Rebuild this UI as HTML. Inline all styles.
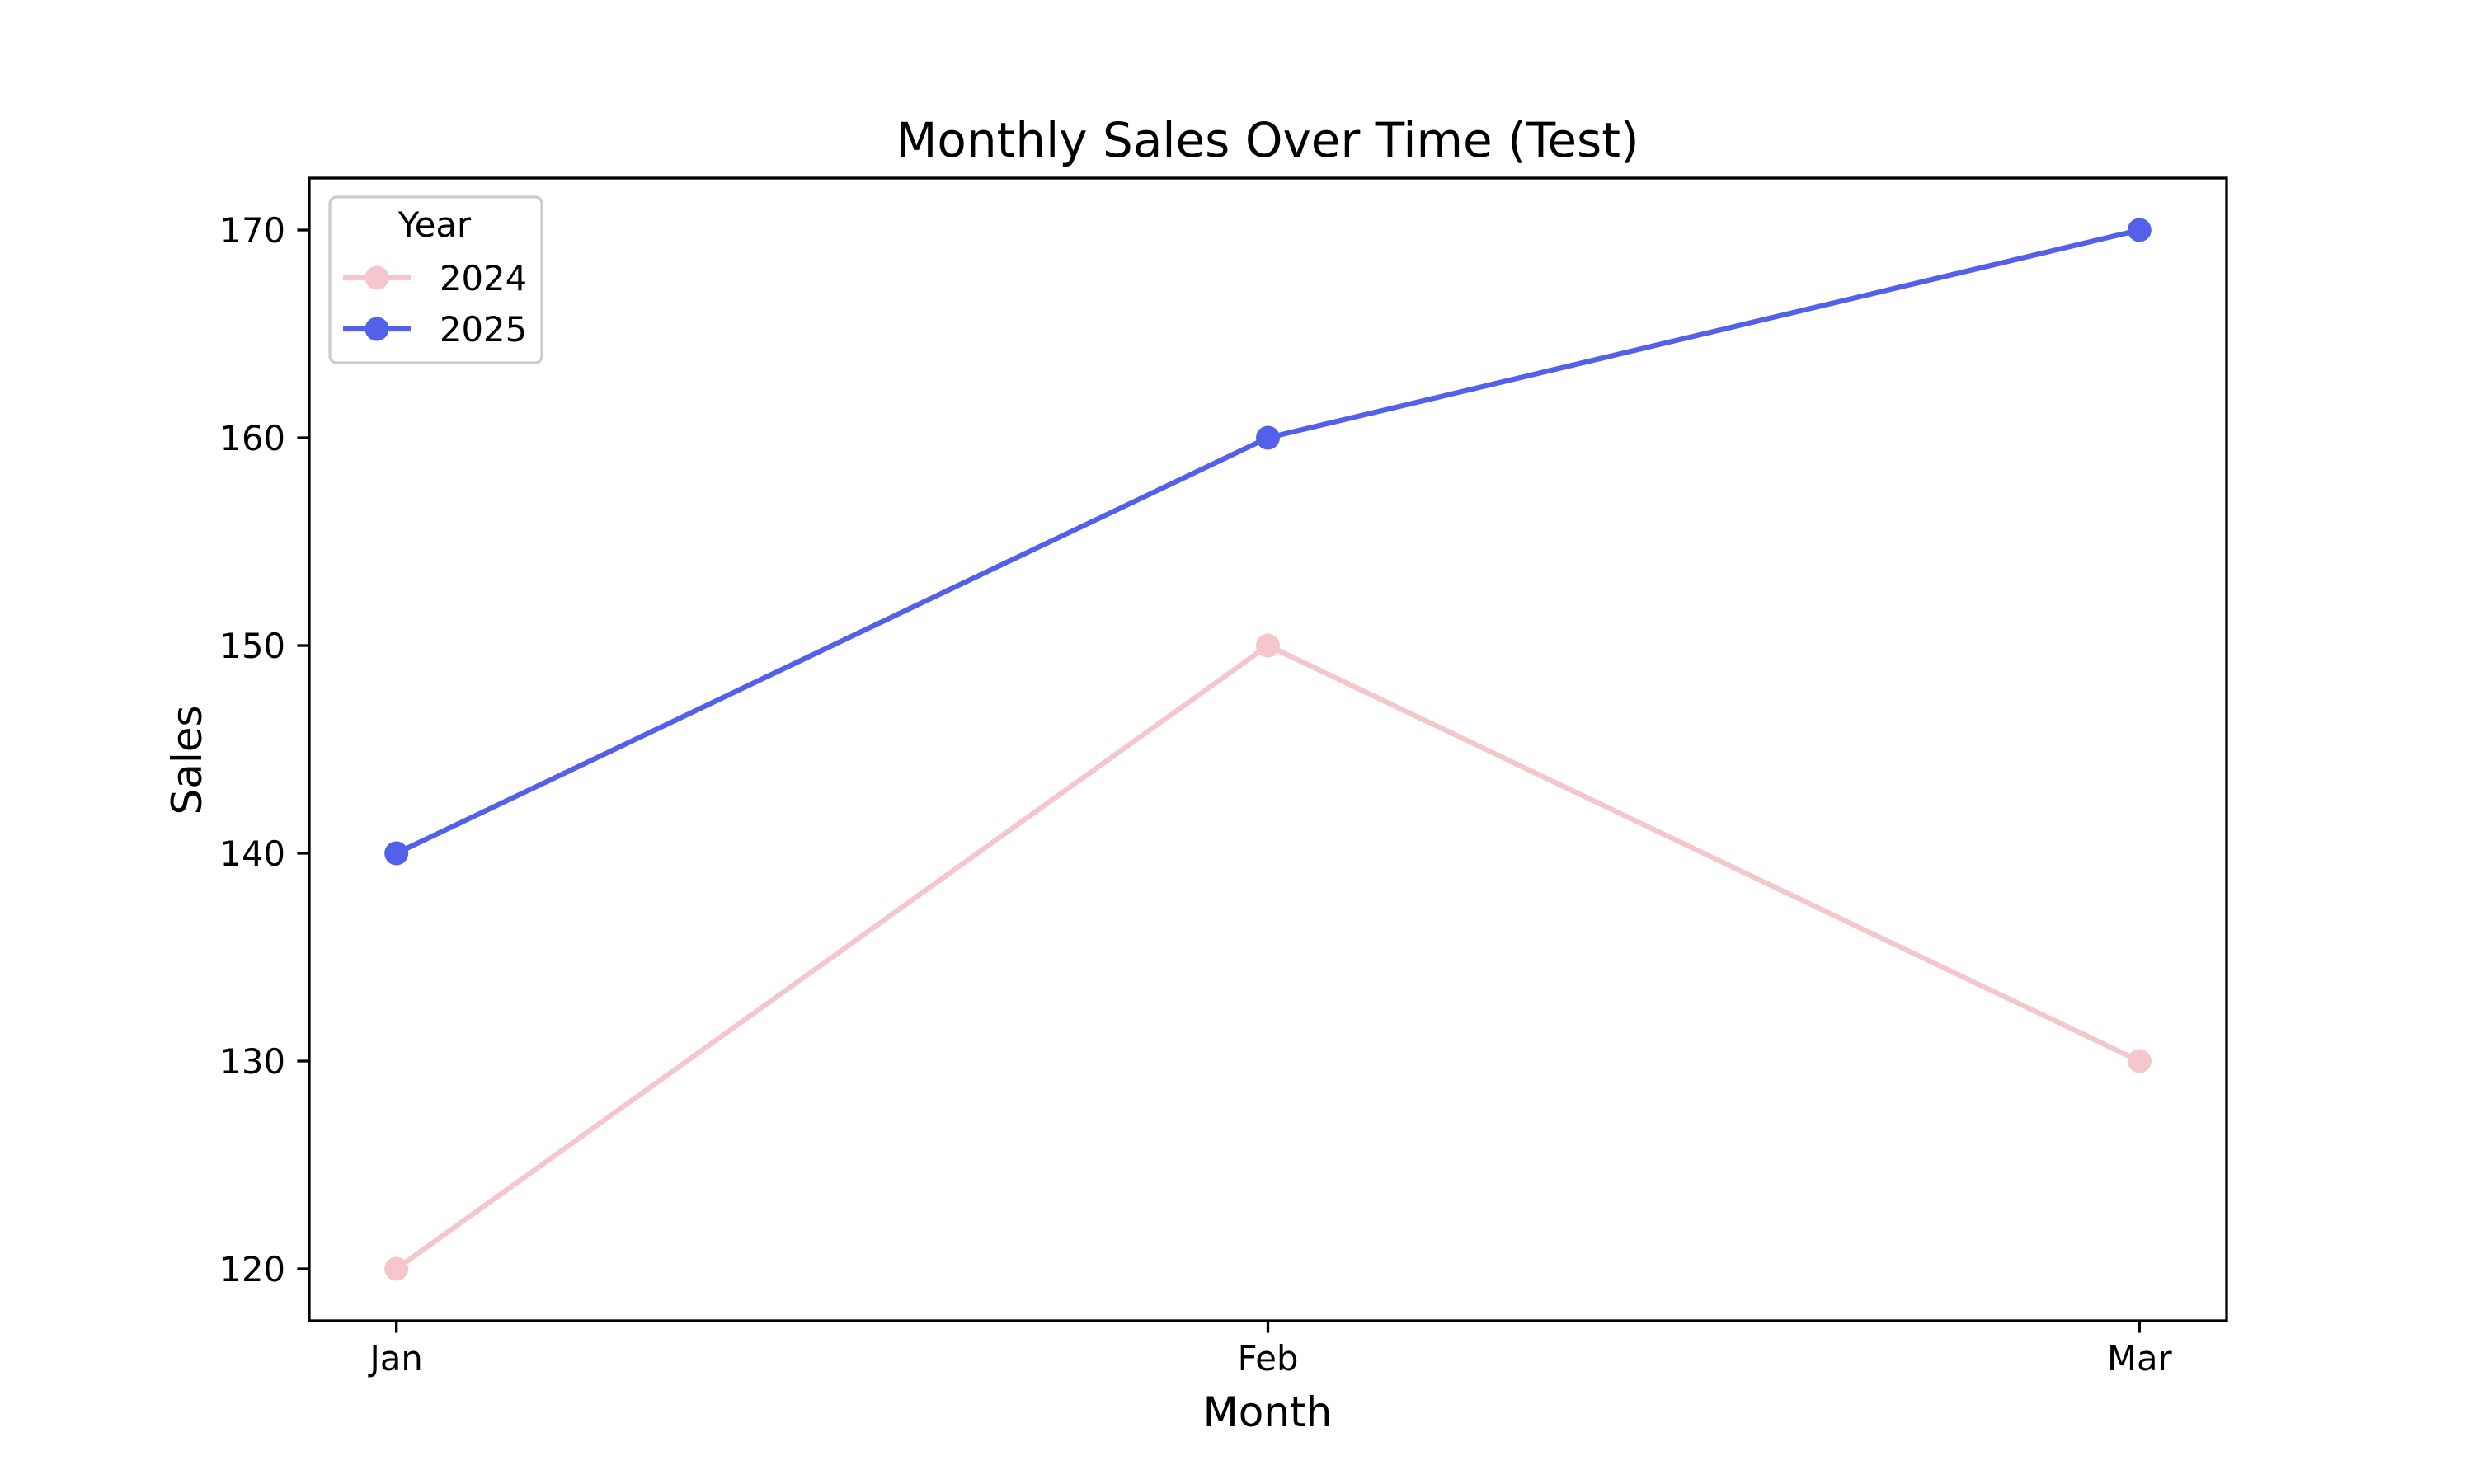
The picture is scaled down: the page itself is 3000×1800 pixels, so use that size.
<!DOCTYPE html>
<html><head><meta charset="utf-8"><style>
html,body{margin:0;padding:0;background:#fff}
svg{display:block;font-family:"DejaVu Sans","Liberation Sans",sans-serif}
</style></head><body>
<svg id="chart" width="3000" height="1800" viewBox="0 0 3000 1800">
<rect width="3000" height="1800" fill="#fff"/>
<text x="1537" y="190" font-size="58" text-anchor="middle" fill="#000">Monthly Sales Over Time (Test)</text>
<g id="series-layer"></g>
<rect x="375" y="216" width="2325" height="1386" fill="none" stroke="#000" stroke-width="3.3"/>
<g id="axis-layer"></g>
<text x="1537" y="1730" font-size="50" text-anchor="middle">Month</text>
<text x="0" y="0" font-size="50" text-anchor="middle" transform="translate(244,922) rotate(-90)">Sales</text>
<g>
<rect x="400" y="239" width="257" height="201" rx="8" fill="#fff" fill-opacity="0.8" stroke="#ccc" stroke-width="3.3"/>
<text x="527" y="287" font-size="41.7" text-anchor="middle">Year</text>
<g>
<line x1="416" y1="337" x2="498" y2="337" stroke="#f5c6cb" stroke-width="6.25"/>
<circle cx="457" cy="337" r="14.5" fill="#f5c6cb"/>
<text x="533" y="352" font-size="41.7">2024</text></g>
<g>
<line x1="416" y1="399" x2="498" y2="399" stroke="#5361ea" stroke-width="6.25"/>
<circle cx="457" cy="399" r="14.5" fill="#5361ea"/>
<text x="533" y="414" font-size="41.7">2025</text></g>
</g>
</svg>
<script>
const categories = ["Jan","Feb","Mar"];
const sales2024 = [120,150,130];
const sales2025 = [140,160,170];
const yTicks = [120,130,140,150,160,170];
const seriesNames = ["2024","2025"];
const seriesColors = ["#f5c6cb","#5361ea"];
const NS="http://www.w3.org/2000/svg";
const L=375,R=2700,T=216,B=1602;
const allVals=sales2024.concat(sales2025);
const ymin0=Math.min(...allVals),ymax0=Math.max(...allVals),pad=(ymax0-ymin0)*0.05;
const ymin=ymin0-pad,ymax=ymax0+pad;
const xmin=-0.1,xmax=(categories.length-1)+0.1;
function xs(i){return L+(i-xmin)/(xmax-xmin)*(R-L);}
function ys(v){return B-(v-ymin)/(ymax-ymin)*(B-T);}
function mk(tag,attrs,parent){const e=document.createElementNS(NS,tag);for(const k in attrs)e.setAttribute(k,attrs[k]);parent.appendChild(e);return e;}
const axis=document.getElementById('axis-layer');
categories.forEach((c,i)=>{
  const t=mk('line',{x1:xs(i),x2:xs(i),y1:B,y2:B+14.6,stroke:'#000','stroke-width':3.3},axis);
  
  
  const tx=mk('text',{x:xs(i),y:B+60,'font-size':41.7,'text-anchor':'middle'},axis);
  tx.textContent=c;
  
  
});
yTicks.forEach(v=>{
  const t=mk('line',{x1:L-14.6,x2:L,y1:ys(v),y2:ys(v),stroke:'#000','stroke-width':3.3},axis);
  
  
  const tx=mk('text',{x:L-29,y:ys(v)+15,'font-size':41.7,'text-anchor':'end'},axis);
  tx.textContent=v;
  
  
});
const sl=document.getElementById('series-layer');
[sales2024,sales2025].forEach((s,k)=>{
  const g=mk('g',{},sl);
  
  
  const pl=mk('polyline',{points:s.map((v,i)=>xs(i)+','+ys(v)).join(' '),fill:'none',stroke:seriesColors[k],'stroke-width':6.25,'stroke-linejoin':'round'},g);
  
  
  s.forEach((v,i)=>{
    const c=mk('circle',{cx:xs(i),cy:ys(v),r:14.5,fill:seriesColors[k]},g);
    
    
  });
});
</script>
</body></html>
